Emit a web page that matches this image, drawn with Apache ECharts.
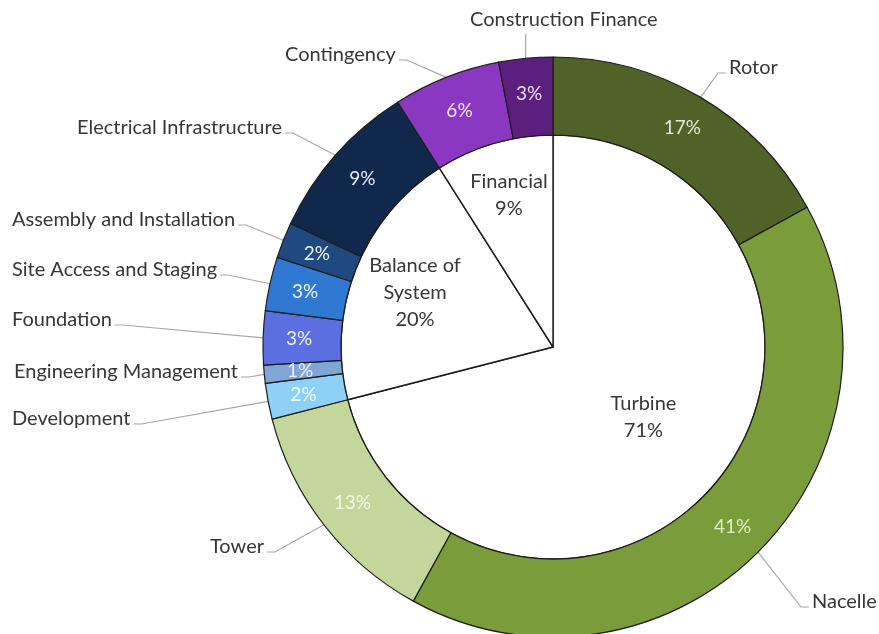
<!DOCTYPE html>
<html>
<head>
<meta charset="utf-8">
<script src="https://cdn.jsdelivr.net/npm/echarts@6/dist/echarts.min.js"></script>
<style>
  html, body { margin: 0; padding: 0; background: #ffffff; }
  #chart { width: 879px; height: 634px; }
</style>
</head>
<body>
<div id="chart"></div>
<script>
// Cost breakdown: cost groups (inner pie) and cost components (outer ring), in percent
const groupNames = ['Turbine', 'Balance of\nSystem', 'Financial'];
const groupValues = [71, 20, 9];

const componentNames = [
  'Rotor', 'Nacelle', 'Tower',
  'Development', 'Engineering Management', 'Foundation',
  'Site Access and Staging', 'Assembly and Installation', 'Electrical Infrastructure',
  'Contingency', 'Construction Finance'
];
const componentValues = [17, 41, 13, 2, 1, 3, 3, 2, 9, 6, 3];

// ---- styling ----
const componentColors = [
  '#4f6228', '#7b9c3b', '#c4d79b',
  '#8fd0f7', '#7fa6d6', '#5b6fe0',
  '#2f79d2', '#1f4a80', '#10284b',
  '#8a37c2', '#5b1f7d'
];
const percentTextColors = [
  '#e4ebd2', '#e2efc4', '#f4f8e6',
  '#f2f8ff', '#e9f0fa', '#eef0ff',
  '#eef4ff', '#e8eef8', '#e6ebf4',
  '#f3e8fb', '#eadcf3'
];
const FONT = 'Lato, "Liberation Sans", sans-serif';
const TEXT_COLOR = '#363636';
const CX = 553, CY = 347, R_IN = 212, R_OUT = 290;

// radial placement of the group labels, as a fraction of the pie radius
const groupLabelRadius = [0.54, 0.70, 0.745];

// name label placement: left edge x, vertical centre y, side the leader attaches to
const namePlacement = {
  'Rotor':                      { x: 729, y: 68,  side: 'left' },
  'Nacelle':                    { x: 812, y: 602, side: 'left' },
  'Tower':                      { x: 210, y: 547, side: 'right' },
  'Development':                { x: 12,  y: 419, side: 'right' },
  'Engineering Management':     { x: 14,  y: 372, side: 'right' },
  'Foundation':                 { x: 12,  y: 320, side: 'right' },
  'Site Access and Staging':    { x: 12,  y: 270, side: 'right' },
  'Assembly and Installation':  { x: 12,  y: 220, side: 'right' },
  'Electrical Infrastructure':  { x: 77,  y: 128, side: 'right' },
  'Contingency':                { x: 285, y: 55,  side: 'right' },
  'Construction Finance':       { x: 470, y: 20,  side: 'top' }
};

// mid-angle of slice i (radians, clockwise from 12 o'clock)
function midAngle(values, i) {
  const total = values.reduce((a, b) => a + b, 0);
  let before = 0;
  for (let k = 0; k < i; k++) before += values[k];
  return (before + values[i] / 2) / total * Math.PI * 2;
}
function polar(angle, r) {
  return [CX + r * Math.sin(angle), CY - r * Math.cos(angle)];
}

const chart = echarts.init(document.getElementById('chart'), null, { renderer: 'canvas' });

const option = {
  backgroundColor: '#ffffff',
  animation: false,
  series: [
    {
      // inner pie: cost groups
      type: 'pie',
      center: [CX, CY],
      radius: [0, R_IN],
      startAngle: 90,
      clockwise: true,
      silent: true,
      data: groupNames.map((n, i) => ({ name: n, value: groupValues[i] })),
      itemStyle: { color: '#ffffff', borderColor: '#1c1c1c', borderWidth: 1.4 },
      label: {
        show: true,
        position: 'inside',
        formatter: p => p.name + '\n' + p.value + '%',
        fontFamily: FONT,
        fontSize: 20,
        lineHeight: 27,
        color: TEXT_COLOR,
        align: 'center'
      },
      labelLine: { show: false },
      labelLayout: function (params) {
        const i = params.dataIndex;
        const p = polar(midAngle(groupValues, i), R_IN * groupLabelRadius[i]);
        return { x: p[0], y: p[1], align: 'center', verticalAlign: 'middle' };
      }
    },
    {
      // outer ring: cost components with their shares
      type: 'pie',
      center: [CX, CY],
      radius: [R_IN, R_OUT],
      startAngle: 90,
      clockwise: true,
      silent: true,
      data: componentNames.map((n, i) => ({
        name: n,
        value: componentValues[i],
        itemStyle: { color: componentColors[i] },
        label: { color: percentTextColors[i] }
      })),
      itemStyle: { borderColor: '#1c1c1c', borderWidth: 1.2 },
      label: {
        show: true,
        position: 'inside',
        formatter: '{c}%',
        fontFamily: FONT,
        fontSize: 19
      },
      labelLine: { show: false }
    },
    {
      // transparent copy of the ring that carries the component names
      type: 'pie',
      center: [CX, CY],
      radius: [R_IN, R_OUT],
      startAngle: 90,
      clockwise: true,
      silent: true,
      avoidLabelOverlap: false,
      data: componentNames.map((n, i) => ({ name: n, value: componentValues[i] })),
      itemStyle: { color: 'rgba(0,0,0,0)', borderWidth: 0 },
      label: {
        show: true,
        position: 'outside',
        formatter: '{b}',
        fontFamily: FONT,
        fontSize: 20,
        color: TEXT_COLOR
      },
      labelLine: {
        show: true,
        length: 20,
        length2: 10,
        lineStyle: { color: '#a6a6a6', width: 1.2 }
      },
      labelLayout: function (params) {
        const i = params.dataIndex;
        const place = namePlacement[componentNames[i]];
        const w = params.labelRect.width;
        const anchor = polar(midAngle(componentValues, i), R_OUT);
        let pts;
        if (place.side === 'top') {
          const endY = place.y + 14;
          pts = [anchor, [anchor[0], endY], [anchor[0], endY]];
        } else if (place.side === 'right') {
          const end = [place.x + w + 3, place.y + 5];
          pts = [anchor, [end[0] + 8, end[1]], end];
        } else {
          const end = [place.x - 3, place.y + 5];
          pts = [anchor, [end[0] - 8, end[1]], end];
        }
        return {
          x: place.x,
          y: place.y,
          align: 'left',
          verticalAlign: 'middle',
          labelLinePoints: pts
        };
      }
    }
  ]
};

chart.setOption(option);
</script>
</body>
</html>
